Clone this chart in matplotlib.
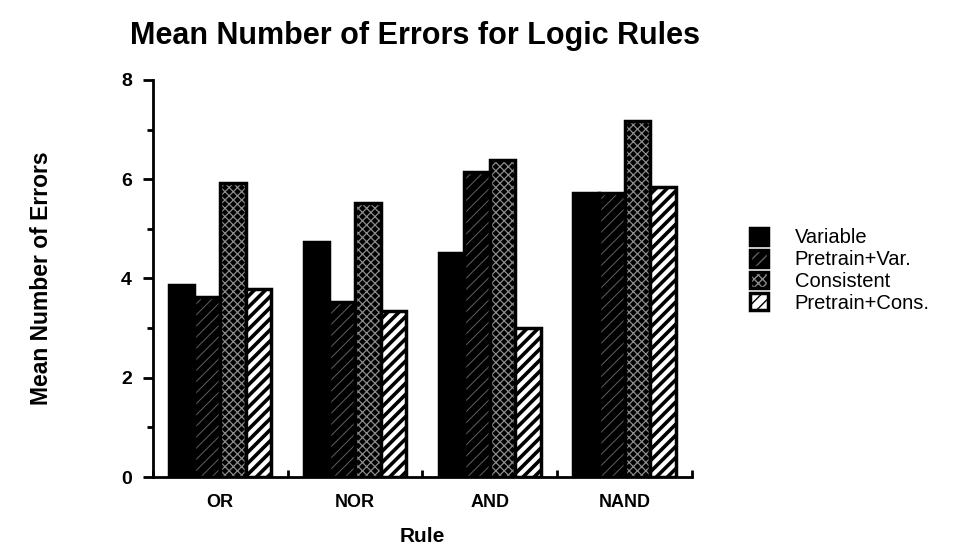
import numpy as np
import matplotlib
matplotlib.use("Agg")
from matplotlib import pyplot as plt
from matplotlib.legend_handler import HandlerTuple

plt.rcParams['font.family'] = ['Liberation Sans', 'DejaVu Sans']
plt.rcParams['hatch.linewidth'] = 1.0

rules = ['OR', 'NOR', 'AND', 'NAND']
series = ['Variable', 'Pretrain+Var.', 'Consistent', 'Pretrain+Cons.']
variable = [3.87, 4.74, 4.52, 5.73]
pretrain_var = [3.63, 3.53, 6.15, 5.73]
consistent = [5.93, 5.52, 6.39, 7.18]
pretrain_cons = [3.79, 3.35, 3.00, 5.85]
values = [variable, pretrain_var, consistent, pretrain_cons]

# face colour, hatch colour, hatch pattern, hatch line width
styles = [('black', 'black', None, 1.0),
          ('black', '#606060', '///', 0.7),
          ('black', '#8c8c8c', 'xxxx', 0.9),
          ('white', 'black', '///', 2.6)]

fig = plt.figure(figsize=(9.6, 5.55), dpi=100)
ax = fig.add_axes([0.159, 0.1405, 0.562, 0.7155])

w = 0.19
x = np.arange(len(rules)) + 0.5
handles = []
for i, (vals, (fc, hc, hatch, hlw)) in enumerate(zip(values, styles)):
    pos = x + (i - 1.5) * w
    b1 = ax.bar(pos, vals, w, color=fc, edgecolor=hc, hatch=hatch, linewidth=0)
    b2 = ax.bar(pos, vals, w, fill=False, edgecolor='black', linewidth=2.5)
    for p in b1:
        if hasattr(p, 'set_hatch_linewidth'):
            p.set_hatch_linewidth(hlw)
    handles.append((b1[0], b2[0]))

ax.set_xlim(0, 4)
ax.set_ylim(0, 8)
ax.set_yticks([0, 2, 4, 6, 8])
ax.set_yticks([1, 3, 5, 7], minor=True)
ax.set_xticks([0, 1, 2, 3, 4])
ax.set_xticklabels([])
ax.set_xticks(x, minor=True)
ax.set_xticklabels(rules, minor=True, fontsize=13, fontweight='bold')
ax.tick_params(axis='x', which='minor', length=0, pad=12)
ax.tick_params(axis='x', which='major', direction='in', length=5, width=2)
ax.tick_params(axis='y', which='major', length=7, width=2, labelsize=14, pad=8)
ax.tick_params(axis='y', which='minor', length=4, width=2)
for t in ax.get_yticklabels():
    t.set_fontweight('bold')

for s in ['top', 'right']:
    ax.spines[s].set_visible(False)
for s in ['left', 'bottom']:
    ax.spines[s].set_linewidth(2)

ax.set_xlabel('Rule', fontsize=15, fontweight='bold', labelpad=12)
ax.set_ylabel('Mean Number of Errors', fontsize=16.5, fontweight='bold', labelpad=49)
fig.text(0.432, 0.935, 'Mean Number of Errors for Logic Rules', ha='center',
         va='center', fontsize=22, fontweight='bold')

fig.legend(handles, series, loc='upper left', bbox_to_anchor=(0.771, 0.607),
           frameon=False, fontsize=14.5, handlelength=0.9, handleheight=0.9,
           labelspacing=0.12, handletextpad=1.3, borderpad=0,
           handler_map={tuple: HandlerTuple(ndivide=1)})

fig.savefig('out.png', dpi=100)
